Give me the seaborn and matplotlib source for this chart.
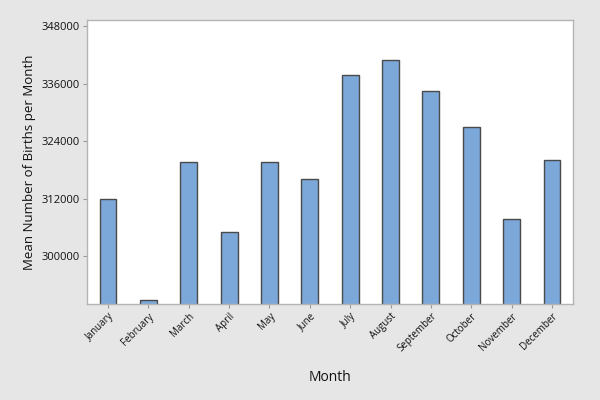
import matplotlib
matplotlib.use('Agg')
import matplotlib.pyplot as plt
import seaborn as sns
import pandas as pd

months = ['January', 'February', 'March', 'April', 'May', 'June',
          'July', 'August', 'September', 'October', 'November', 'December']
mean_births = [311900, 290800, 319600, 305100, 319600, 316100,
               337800, 341000, 334400, 326900, 307700, 320000]
yticks = [300000, 312000, 324000, 336000, 348000]

df = pd.DataFrame({'Month': months, 'Births': mean_births})

sns.set_theme(style='white')
plt.rcParams['font.family'] = ['Open Sans', 'DejaVu Sans']

fig = plt.figure(figsize=(6, 4), dpi=100, facecolor='#e6e6e6')
ax = fig.add_axes([0.145, 0.24, 0.81, 0.71])
ax.set_facecolor('white')

sns.barplot(data=df, x='Month', y='Births', color='#7ba7d9', saturation=1,
            width=0.42, edgecolor='#4a4a4a', linewidth=1.0, ax=ax)

ax.set_ylim(290000, 349300)
ax.set_xlim(-0.52, 11.52)
ax.set_yticks(yticks)
ax.set_yticklabels([str(v) for v in yticks], fontsize=8, color='#111111')
ax.set_xticks(range(len(months)))
ax.set_xticklabels(months, rotation=45, ha='right', rotation_mode='anchor',
                   fontsize=7, color='#111111')
ax.tick_params(axis='both', length=3, width=0.8, color='#999999',
               bottom=True, left=True, pad=2)

for s in ax.spines.values():
    s.set_color('#b4b4b4')
    s.set_linewidth(1.0)

ax.set_xlabel('Month', fontsize=10, labelpad=11, color='#111111')
ax.set_ylabel('Mean Number of Births per Month', fontsize=9.5,
              labelpad=4, color='#111111')

fig.savefig('out.png', dpi=100, facecolor=fig.get_facecolor())
